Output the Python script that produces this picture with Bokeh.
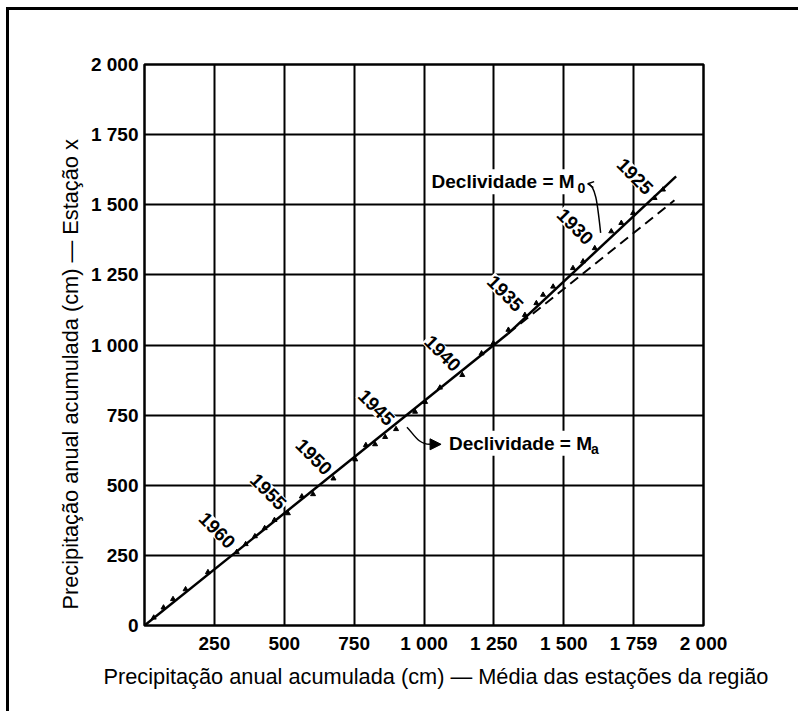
import math
from bokeh.plotting import figure
from bokeh.models import FixedTicker, Range1d, Arrow, NormalHead, OpenHead, Title
from bokeh.core.properties import value
from bokeh.embed import file_html
from bokeh.resources import INLINE

# ---------------- data ----------------
# accumulated annual precipitation (cm), from the origin (latest year) upward
acc_region = [33, 68, 102, 147, 227, 330, 362, 395, 430, 465, 513, 563, 603, 676,
              754, 792, 825, 861, 900, 968, 1004, 1057, 1137, 1206, 1248, 1302,
              1361, 1402, 1426, 1462, 1533, 1569, 1611, 1670, 1706, 1748, 1825, 1855]
acc_station = [28, 64, 94, 129, 190, 262, 290, 318, 347, 376, 400, 460, 468, 524,
               592, 643, 646, 672, 700, 762, 797, 848, 893, 970, 1006, 1054,
               1107, 1149, 1179, 1208, 1274, 1298, 1345, 1405, 1435, 1470, 1524, 1554]

# year labels and the point (index in the lists above) each one marks
label_years = ["1925", "1930", "1935", "1940", "1945", "1950", "1955", "1960"]
label_point = [36, 32, 26, 22, 18, 13, 10, 5]

# fitted lines: slope Ma (solid then dashed) and slope M0 (solid, recent years)
ma_x = [0, 1300]
ma_y = [0, 1040]
ma_ext_x = [1300, 1896]
ma_ext_y = [1040, 1516]
mo_x = [1300, 1902]
mo_y = [1040, 1601]

# annotation anchors (data units)
mo_text_xy = (1546, 1582)
ma_text_xy = (1082, 650)
mo_arrow = [(1586, 1575), (1614, 1571), (1621, 1500), (1632, 1400)]
ma_arrow = [(939, 707), (964, 682), (979, 646), (1021, 646), (1061, 646)]

x_ticks = [0, 250, 500, 750, 1000, 1250, 1500, 1750, 2000]
x_tick_labels = ["", "250", "500", "750", "1 000", "1 250", "1 500", "1 759", "2 000"]
y_ticks = [0, 250, 500, 750, 1000, 1250, 1500, 1750, 2000]
y_tick_labels = ["0", "250", "500", "750", "1 000", "1 250", "1 500", "1 750", "2 000"]

x_title = "Precipitação anual acumulada (cm) — Média das estações da região"
y_title = "Precipitação anual acumulada (cm) — Estação x"

FONT = "Liberation Sans"

# ---------------- figure ----------------
p = figure(width=792, height=704, x_range=Range1d(0, 2000), y_range=Range1d(0, 2000),
           output_backend="svg", toolbar_location=None,
           min_border_left=135, min_border_right=98, min_border_top=54, min_border_bottom=89)
p.styles = {"margin-top": "7px", "margin-left": "6px",
            "border-top": "3px solid black", "border-left": "3px solid black"}
p.background_fill_color = "white"
p.border_fill_color = "white"
p.outline_line_color = "black"
p.outline_line_width = 2.5

for ax, ticks, labels in ((p.xaxis, x_ticks, x_tick_labels), (p.yaxis, y_ticks, y_tick_labels)):
    ax.ticker = FixedTicker(ticks=ticks)
    ax.major_label_overrides = {t: l for t, l in zip(ticks, labels)}
    ax.axis_line_color = None
    ax.major_tick_line_color = None
    ax.minor_tick_line_color = None
    ax.major_tick_out = 0
    ax.major_tick_in = 0
    ax.minor_tick_out = 0
    ax.minor_tick_in = 0
    ax.major_label_text_font = FONT
    ax.major_label_text_font_style = "bold"
    ax.major_label_text_font_size = "19px"
    ax.major_label_text_color = "black"

p.xaxis.major_label_standoff = 7
p.yaxis.major_label_standoff = 6

p.xgrid.ticker = FixedTicker(ticks=x_ticks)
p.ygrid.ticker = FixedTicker(ticks=y_ticks)
for g in (p.xgrid, p.ygrid):
    g.grid_line_color = "black"
    g.grid_line_width = 2

# axis titles (offset along the axis like in the original)
p.add_layout(Title(text=x_title, align="left", offset=-41, standoff=10,
                   vertical_align="bottom", text_font=FONT, text_font_style="normal",
                   text_font_size="21.75px", text_color="black"), "below")
p.add_layout(Title(text=y_title, align="left", offset=16, standoff=10,
                   vertical_align="bottom", text_font=FONT, text_font_style="normal",
                   text_font_size="21.75px", text_color="black"), "left")

# year labels (white boxes hide the grid under them)
lx = [acc_region[i] for i in label_point]
ly = [acc_station[i] for i in label_point]
p.text(x=lx, y=ly, text=label_years, angle=-math.pi / 4, text_align="right",
       text_baseline="middle", x_offset=-4, y_offset=-6,
       text_font=value(FONT), text_font_style="bold", text_font_size="19px",
       text_color="black", background_fill_color="white", padding=1)

# slope labels
p.text(x=[mo_text_xy[0]], y=[mo_text_xy[1]], text=["Declividade = M"], text_align="right",
       text_baseline="middle", text_font=value(FONT), text_font_style="bold",
       text_font_size="19px", text_color="black", background_fill_color="white", padding=2)
p.text(x=[mo_text_xy[0]], y=[mo_text_xy[1]], text=["0"], text_align="left",
       text_baseline="middle", x_offset=1, y_offset=6, text_font=value(FONT),
       text_font_style="bold", text_font_size="14px", text_color="black")
p.text(x=[ma_text_xy[0]], y=[ma_text_xy[1]], text=["Declividade = M"], text_align="left",
       text_baseline="middle", text_font=value(FONT), text_font_style="bold",
       text_font_size="19px", text_color="black", background_fill_color="white", padding=2)
p.text(x=[ma_text_xy[0]], y=[ma_text_xy[1]], text=["a"], text_align="left",
       text_baseline="middle", x_offset=144, y_offset=6, text_font=value(FONT),
       text_font_style="bold", text_font_size="14px", text_color="black")

# lines
p.line(ma_x, ma_y, line_color="black", line_width=2.5)
p.line(mo_x, mo_y, line_color="black", line_width=2.5)
p.line(ma_ext_x, ma_ext_y, line_color="black", line_width=2, line_dash="10 6")

# observed cumulative points
p.scatter(acc_region, acc_station, marker="triangle", size=5, color="black")

# arrows
a = mo_arrow
p.bezier(x0=[a[0][0]], y0=[a[0][1]], x1=[a[3][0]], y1=[a[3][1]],
         cx0=[a[1][0]], cy0=[a[1][1]], cx1=[a[2][0]], cy1=[a[2][1]],
         line_color="black", line_width=1.5)
p.add_layout(Arrow(end=OpenHead(size=6, line_width=1.5, line_color="black"),
                   x_start=a[1][0], y_start=a[1][1], x_end=a[0][0], y_end=a[0][1],
                   line_alpha=0))
b = ma_arrow
p.bezier(x0=[b[0][0]], y0=[b[0][1]], x1=[b[3][0]], y1=[b[3][1]],
         cx0=[b[1][0]], cy0=[b[1][1]], cx1=[b[2][0]], cy1=[b[2][1]],
         line_color="black", line_width=1.5)
p.add_layout(Arrow(end=NormalHead(size=11, fill_color="black", line_color="black"),
                   x_start=b[3][0], y_start=b[3][1], x_end=b[4][0], y_end=b[4][1],
                   line_color="black", line_width=1.5))

open("out.html", "w").write(file_html(p, INLINE))
